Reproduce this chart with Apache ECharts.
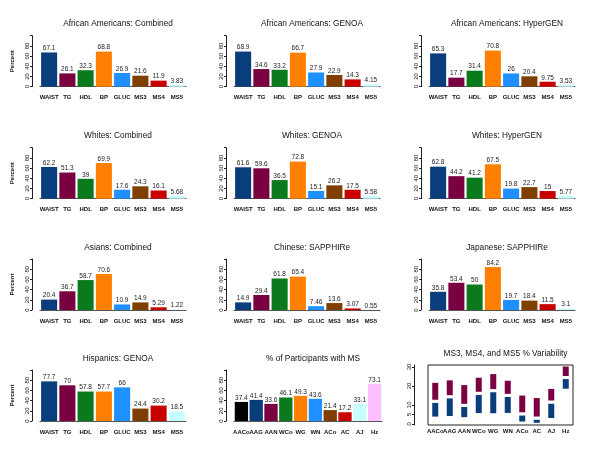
<!DOCTYPE html>
<html><head><meta charset="utf-8">
<script src="https://cdn.jsdelivr.net/npm/echarts@6/dist/echarts.min.js"></script>
<style>html,body{margin:0;padding:0;background:#fff}#c{width:600px;height:463px}</style>
</head><body><div id="c"></div>
<script>
const metricCats = ['WAIST','TG','HDL','BP','GLUC','MS3','MS4','MS5'];
const metricColors = ['#0a3d7c','#7a0042','#0a7a1c','#ff8000','#1e90ff','#7f3f00','#c80000','#c8ffff'];
const panelTitles = ['African Americans: Combined','African Americans: GENOA','African Americans: HyperGEN',
  'Whites: Combined','Whites: GENOA','Whites: HyperGEN',
  'Asians: Combined','Chinese: SAPPHIRe','Japanese: SAPPHIRe',
  'Hispanics: GENOA','% of Participants with MS','MS3, MS4, and MS5 % Variability'];
const aaCombined   = [67.1, 26.1, 32.3, 68.8, 26.9, 21.6, 11.9, 3.83];
const aaGenoa      = [68.9, 34.6, 33.2, 66.7, 27.9, 22.9, 14.3, 4.15];
const aaHypergen   = [65.3, 17.7, 31.4, 70.8, 26, 20.4, 9.75, 3.53];
const wCombined    = [62.2, 51.3, 39, 69.9, 17.6, 24.3, 16.1, 5.68];
const wGenoa       = [61.6, 59.6, 36.5, 72.8, 15.1, 26.2, 17.5, 5.58];
const wHypergen    = [62.8, 44.2, 41.2, 67.5, 19.8, 22.7, 15, 5.77];
const asCombined   = [20.4, 36.7, 58.7, 70.6, 10.9, 14.9, 5.29, 1.22];
const chinese      = [14.9, 29.4, 61.8, 65.4, 7.46, 13.6, 3.07, 0.55];
const japanese     = [35.8, 53.4, 50, 84.2, 19.7, 18.4, 11.5, 3.1];
const hispGenoa    = [77.7, 70, 57.8, 57.7, 66, 24.4, 30.2, 18.5];
const groupCats    = ['AACo','AAG','AAN','WCo','WG','WN','ACo','AC','AJ','Hz'];
const groupColors  = ['#000000','#0a3d7c','#7a0042','#0a7a1c','#ff8000','#1e90ff','#7f3f00','#c80000','#c8ffff','#ffc0ff'];
const msPercent    = [37.4, 41.4, 33.6, 46.1, 49.3, 43.6, 21.4, 17.2, 33.1, 73.1];
const ms3 = [21.6, 22.9, 20.4, 24.3, 26.2, 22.7, 14.9, 13.6, 18.4, 24.4];
const ms4 = [11.9, 14.3, 9.75, 16.1, 17.5, 15, 5.29, 3.07, 11.5, 30.2];
const ms5 = [3.83, 4.15, 3.53, 5.68, 5.58, 5.77, 1.22, 0.55, 3.1, 18.5];
const pctTicks = [0, 20, 40, 60, 80];
const varTicks = [0, 5, 10, 20, 30];

const metricPanels = [aaCombined, aaGenoa, aaHypergen, wCombined, wGenoa, wHypergen, asCombined, chinese, japanese, hispGenoa];

const FONT = 'Liberation Sans, Arial, sans-serif';
const colLeft = [40, 234, 429];
const rowTop = [35.7, 147.7, 259, 370];
const plotW = 146, plotH = 51;

const grids = [], xAxes = [], yAxes = [], series = [], titles = [];

for (let i = 0; i < 12; i++) {
  const c = i % 3, r = Math.floor(i / 3);
  const isVar = i === 11;
  const top = isVar ? 365 : rowTop[r];
  const h = isVar ? 60 : plotH;
  const left = isVar ? 428 : colLeft[c];
  const w = isVar ? 145 : (i === 10 ? 148 : plotW);
  grids.push({left: left, top: top, width: w, height: h, containLabel: false,
    show: isVar, borderColor: '#222', borderWidth: 1, backgroundColor: 'transparent'});
  titles.push({text: panelTitles[i], left: left + w / 2, top: top - 20.5, textAlign: 'center',
    textStyle: {fontFamily: FONT, fontSize: 8.3, fontWeight: 'normal', color: '#111'}});
  const cats = (i >= 10) ? groupCats : metricCats;
  xAxes.push({type: 'category', gridIndex: i, data: cats,
    axisLine: {show: !isVar, lineStyle: {color: '#555', width: 1.2}},
    axisTick: {show: false},
    axisLabel: {fontFamily: FONT, fontSize: 6, fontWeight: 'bold', color: '#111', margin: isVar ? 3 : 8, interval: 0}});
  if (isVar) {
    yAxes.push({type: 'value', gridIndex: i, min: -0.6, max: 31, offset: 14,
      axisLine: {show: true, lineStyle: {color: '#222'}},
      axisTick: {show: true, length: 2, customValues: varTicks, lineStyle: {color: '#222'}},
      axisLabel: {fontFamily: FONT, fontSize: 6, color: '#111', rotate: 90, margin: 2, customValues: varTicks},
      splitLine: {show: false}});
  } else {
    yAxes.push({type: 'value', gridIndex: i, min: 0, max: 100, interval: 20, offset: 8,
      name: c === 0 ? 'Percent' : '', nameLocation: 'middle', nameGap: 17, nameRotate: 90,
      nameTextStyle: {fontFamily: FONT, fontSize: 6, fontWeight: 'bold', color: '#111'},
      axisLine: {show: true, lineStyle: {color: '#222'}},
      axisTick: {show: true, length: 2, lineStyle: {color: '#222'}},
      axisLabel: {fontFamily: FONT, fontSize: 6, color: '#111', rotate: 90, margin: 2,
        formatter: v => pctTicks.indexOf(v) >= 0 ? String(v) : ''},
      splitLine: {show: false}});
  }
  if (i < 10) {
    const vals = metricPanels[i];
    series.push({type: 'bar', xAxisIndex: i, yAxisIndex: i, barCategoryGap: '12%',
      data: vals.map((v, k) => ({value: v, itemStyle: {color: metricColors[k]}})),
      label: {show: true, position: 'top', distance: 0.5, fontFamily: FONT, fontSize: 6.5, color: '#222'}});
  } else if (i === 10) {
    series.push({type: 'bar', xAxisIndex: i, yAxisIndex: i, barCategoryGap: '10%',
      data: msPercent.map((v, k) => ({value: v, itemStyle: {color: groupColors[k]}})),
      label: {show: true, position: 'top', distance: 0.5, fontFamily: FONT, fontSize: 6.5, color: '#222'}});
  } else {
    const lo = [], blue = [], white = [], red = [];
    for (let k = 0; k < groupCats.length; k++) {
      const arr = [ms3[k], ms4[k], ms5[k]].sort((a, b) => a - b);
      const mn = arr[0], md = arr[1], mx = arr[2];
      lo.push(mn);
      blue.push(md - 0.8 - mn);
      white.push(1.6);
      red.push(mx - md - 0.8);
    }
    const base = {type: 'bar', xAxisIndex: i, yAxisIndex: i, stack: 'v', barWidth: 6};
    series.push(Object.assign({}, base, {data: lo, itemStyle: {color: 'transparent'}}));
    series.push(Object.assign({}, base, {data: blue, itemStyle: {color: '#0a3d7c'}}));
    series.push(Object.assign({}, base, {data: white, itemStyle: {color: '#ffffff'}}));
    series.push(Object.assign({}, base, {data: red, itemStyle: {color: '#7a0042'}}));
  }
}

const chart = echarts.init(document.getElementById('c'), null, {renderer: 'canvas'});
chart.setOption({animation: false, backgroundColor: '#fff', title: titles, grid: grids,
  xAxis: xAxes, yAxis: yAxes, series: series, tooltip: {show: false}});
</script></body></html>
